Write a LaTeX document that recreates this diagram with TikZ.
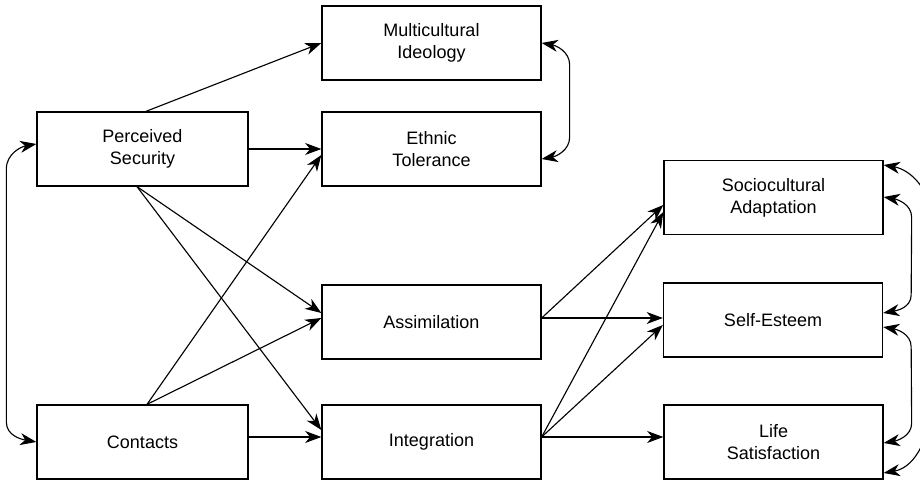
\documentclass[tikz,border=0pt]{standalone}
\usepackage{fontspec}
\setmainfont{Liberation Sans}
\usepackage{tikz}
\usetikzlibrary{arrows.meta, calc, positioning}

\begin{document}
\begin{tikzpicture}[x=0.025cm, y=0.025cm,
    >={Stealth[length=11.5pt, width=8.5pt, inset=3.5pt]},
    var/.style={draw, line width=0.9pt, minimum width=5.475cm, minimum height=1.85cm,
        align=center, inner sep=2pt, font=\fontsize{12.8}{15.6}\selectfont},
    varl/.style={var, minimum width=5.275cm},
    link/.style={->, line width=0.8pt},
    corr/.style={<->, line width=0.8pt}]
    \useasboundingbox (0,0) rectangle (920,484);

    % Predictors
    \node[varl] (secu) at (142.5,335) {Perceived\\Security};
    \node[varl] (cont) at (142.5,42) {Contacts};

    % Intercultural attitudes
    \node[var] (multi) at (431.5,441) {Multicultural\\Ideology};
    \node[var] (ethn) at (431.5,335) {Ethnic\\Tolerance};

    % Acculturation strategies
    \node[var] (assim) at (431.5,162) {Assimilation};
    \node[var] (integ) at (431.5,42) {Integration};

    % Adaptation outcomes
    \node[var] (socio) at (773.5,286.5) {Sociocultural\\Adaptation};
    \node[var] (self) at (773,164) {Self-Esteem};
    \node[var] (life) at (773.5,42) {Life\\Satisfaction};

    % Paths from predictors
    \draw[link] ($(secu.north)+(3.5,0)$) -- (multi.west);
    \draw[link] (secu) -- (ethn);
    \draw[link] ($(cont.north)+(4.5,0)$) -- ($(ethn.west)+(0,-6)$);
    \draw[link] ($(cont.north)+(4.5,0)$) -- ($(assim.west)+(0,4)$);
    \draw[link] ($(secu.south)+(-5.5,0)$) -- ($(assim.west)+(0,9)$);
    \draw[link] ($(secu.south)+(-5.5,0)$) -- ($(integ.west)+(0,12)$);
    \draw[link] ($(cont.east)+(0,5)$) -- ($(integ.west)+(0,5)$);

    % Paths to adaptation
    \draw[link] ($(assim.east)+(0,4)$) -- ($(socio.west)+(0,-7.5)$);
    \draw[link] ($(assim.east)+(0,4)$) -- ($(self.west)+(0,2)$);
    \draw[link] ($(integ.east)+(0,5)$) -- ($(socio.west)+(0,-14.5)$);
    \draw[link] ($(integ.east)+(0,5)$) -- ($(self.west)+(0,-5)$);
    \draw[link] ($(integ.east)+(0,5)$) -- ($(life.west)+(0,5)$);

    % Correlations
    \draw[corr] (multi.east) to[out=-10,in=90] ($(multi.east)+(28,-22)$)
        -- ($(ethn.east)+(28,12)$) to[out=-90,in=10] ($(ethn.east)+(0,-10)$);
    \draw[corr] ($(secu.west)+(0,5)$) to[out=190,in=90] ($(secu.west)+(-30,-20)$)
        -- ($(cont.west)+(-30,20)$) to[out=-90,in=170] (cont.west);
    \draw[corr] ($(socio.east)+(0,32.5)$) to[out=-10,in=90] ($(socio.east)+(47,-20)$)
        -- ($(life.east)+(47,40)$) to[out=-90,in=10] ($(life.east)+(0,-31)$);
    \draw[corr] ($(socio.east)+(0,0.5)$) to[out=-10,in=90] ($(socio.east)+(28,-20)$)
        -- ($(self.east)+(28,25)$) to[out=-90,in=10] ($(self.east)+(0,7)$);
    \draw[corr] ($(self.east)+(0,-7)$) to[out=-10,in=90] ($(self.east)+(28,-27)$)
        -- ($(life.east)+(28,19)$) to[out=-90,in=10] ($(life.east)+(0,-1)$);
\end{tikzpicture}
\end{document}
